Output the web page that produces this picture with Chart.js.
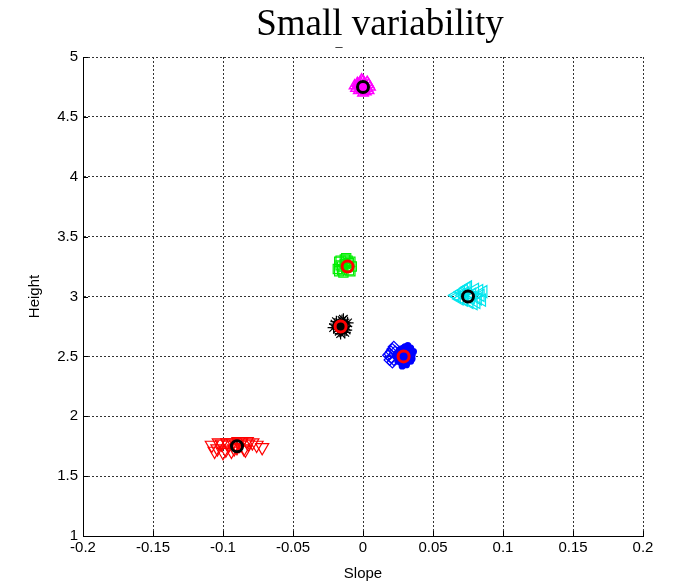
<!DOCTYPE html>
<html>
<head>
<meta charset="utf-8">
<script src="https://cdn.jsdelivr.net/npm/chart.js@4/dist/chart.umd.min.js"></script>
<style>
  html, body { margin: 0; padding: 0; background: #ffffff; }
  #wrap { width: 675px; height: 584px; position: relative; }
</style>
</head>
<body>
<div id="wrap"><canvas id="c" width="675" height="584"></canvas></div>
<script>
// Axis ranges and tick values
const xTicks = [-0.2, -0.15, -0.1, -0.05, 0, 0.05, 0.1, 0.15, 0.2];
const yTicks = [1, 1.5, 2, 2.5, 3, 3.5, 4, 4.5, 5];

// Samples of each group, [slope, height]
const magentaPts = [[-0.004,4.76],[-0.002,4.79],[0.001,4.78],[0.003,4.74],[-0.003,4.72],[0.002,4.71],[0.000,4.80],[-0.005,4.74],[0.004,4.77],[-0.001,4.73],[0.002,4.76],[-0.002,4.75],[0.001,4.72],[-0.004,4.78],[0.003,4.79],[-0.006,4.76],[0.005,4.75],[-0.001,4.81],[0.000,4.70],[-0.003,4.77],[0.004,4.72]];
const greenPts = [[-0.017,3.29],[-0.015,3.22],[-0.013,3.31],[-0.010,3.28],[-0.009,3.21],[-0.012,3.24],[-0.016,3.26],[-0.011,3.30],[-0.014,3.20],[-0.008,3.25],[-0.018,3.23],[-0.010,3.22],[-0.013,3.27],[-0.016,3.30],[-0.015,3.25],[-0.009,3.29],[-0.017,3.21],[-0.012,3.32]];
const blackPts = [[-0.020,2.77],[-0.018,2.73],[-0.015,2.80],[-0.013,2.76],[-0.012,2.72],[-0.017,2.71],[-0.014,2.74],[-0.019,2.79],[-0.011,2.78],[-0.016,2.77],[-0.021,2.74],[-0.013,2.70],[-0.015,2.73],[-0.018,2.76],[-0.012,2.75],[-0.016,2.69],[-0.014,2.81]];
const blueDotPts = [[0.025,2.52],[0.027,2.56],[0.030,2.58],[0.033,2.55],[0.035,2.51],[0.034,2.46],[0.031,2.44],[0.027,2.45],[0.026,2.48],[0.029,2.53],[0.032,2.49],[0.028,2.50],[0.030,2.47],[0.033,2.52],[0.026,2.55],[0.035,2.48],[0.029,2.57],[0.031,2.43],[0.024,2.50],[0.036,2.54],[0.028,2.42],[0.032,2.59],[0.025,2.46],[0.034,2.57]];
const blueDiamondPts = [[0.019,2.52],[0.021,2.56],[0.022,2.47],[0.020,2.49],[0.023,2.54],[0.021,2.45],[0.018,2.51],[0.022,2.58],[0.020,2.54],[0.019,2.47]];
const cyanPts = [[0.067,3.00],[0.070,3.04],[0.072,2.97],[0.074,3.07],[0.076,2.95],[0.078,3.02],[0.080,3.06],[0.082,2.98],[0.084,3.01],[0.086,3.04],[0.071,3.01],[0.077,2.99],[0.081,2.95],[0.073,3.03],[0.085,2.97],[0.069,2.98],[0.075,3.08],[0.079,2.94],[0.083,3.05],[0.066,3.01],[0.072,3.05]];
const redPts = [[-0.108,1.76],[-0.104,1.73],[-0.101,1.77],[-0.098,1.72],[-0.096,1.76],[-0.093,1.78],[-0.090,1.74],[-0.087,1.78],[-0.085,1.73],[-0.082,1.77],[-0.079,1.78],[-0.076,1.76],[-0.072,1.74],[-0.106,1.71],[-0.100,1.70],[-0.094,1.71],[-0.091,1.77],[-0.088,1.76],[-0.084,1.72],[-0.097,1.78],[-0.089,1.79],[-0.083,1.79],[-0.103,1.78],[-0.092,1.73]];

// Group means
const centersBlack = [[0.000,4.75],[0.075,3.00],[-0.090,1.75]];
const centersRed = [[-0.011,3.25],[-0.016,2.75],[0.029,2.50]];

const toXY = arr => arr.map(p => ({x: p[0], y: p[1]}));

function group(pts, color, style, radius, extra) {
  return Object.assign({
    data: toXY(pts),
    pointStyle: style,
    pointRadius: radius,
    pointHoverRadius: radius,
    borderColor: color,
    backgroundColor: 'rgba(0,0,0,0)',
    pointBorderWidth: 1.2,
    showLine: false
  }, extra || {});
}

const tickFont = { family: "'Liberation Sans', Arial, sans-serif", size: 15 };

// Title drawn in serif type centred over the axes
const titlePlugin = {
  id: 'titleText',
  afterDraw(chart) {
    const ctx = chart.ctx;
    ctx.save();
    ctx.fillStyle = '#000';
    ctx.font = "37px 'Liberation Serif', 'Times New Roman', serif";
    ctx.textAlign = 'center';
    ctx.textBaseline = 'alphabetic';
    ctx.fillText('Small variability', 380, 35);
    ctx.font = "14px 'Liberation Serif', 'Times New Roman', serif";
    ctx.fillText('_', 339, 46);
    ctx.restore();
  }
};

// Short inward tick marks along the left and bottom axes
const innerTicks = {
  id: 'innerTicks',
  afterDraw(chart) {
    const ctx = chart.ctx, xs = chart.scales.x, ys = chart.scales.y, a = chart.chartArea;
    ctx.save();
    ctx.strokeStyle = '#000';
    ctx.lineWidth = 1;
    ctx.beginPath();
    yTicks.forEach(v => { const y = Math.round(ys.getPixelForValue(v)) + 0.5; ctx.moveTo(a.left, y); ctx.lineTo(a.left + 5, y); });
    xTicks.forEach(v => { const x = Math.round(xs.getPixelForValue(v)) + 0.5; ctx.moveTo(x, a.bottom); ctx.lineTo(x, a.bottom - 5); });
    ctx.stroke();
    ctx.restore();
  }
};

new Chart(document.getElementById('c'), {
  type: 'scatter',
  data: {
    datasets: [
      group(centersBlack, '#000000', 'circle', 5.5, { pointBorderWidth: 3 }),
      group(centersRed, '#ff0000', 'circle', 5.5, { pointBorderWidth: 3 }),
      group(magentaPts, '#ff00ff', 'triangle', 6, { pointBorderWidth: 1.5 }),
      group(greenPts, '#00ee00', 'rect', 6.5),
      group(blackPts, '#000000', 'star', 6),
      group(blueDotPts, '#0000ff', 'circle', 3.6, { backgroundColor: '#0000ff', pointBorderWidth: 0 }),
      group(blueDiamondPts, '#0000ff', 'rectRot', 5.5),
      group(cyanPts, '#00e5ee', 'triangle', 7, { rotation: -90 }),
      group(redPts, '#ff0000', 'triangle', 7.5, { rotation: 180 })
    ]
  },
  options: {
    responsive: false,
    animation: false,
    events: [],
    layout: { padding: { top: 57, right: 32, left: 0, bottom: 0 } },
    plugins: { legend: { display: false }, tooltip: { enabled: false }, title: { display: false } },
    scales: {
      x: {
        type: 'linear', min: -0.2, max: 0.2,
        afterBuildTicks: s => { s.ticks = xTicks.map(v => ({ value: v })); },
        afterFit: s => { s.height = 48; },
        ticks: { color: '#000', font: tickFont, padding: 3, maxRotation: 0, callback: v => String(Math.round(v * 100) / 100) },
        grid: { color: '#333', lineWidth: 1, drawTicks: false, tickLength: 0 },
        border: { display: true, color: '#000', width: 1, dash: [2, 2] },
        title: { display: true, text: 'Slope', color: '#000', font: tickFont, padding: { top: 2, bottom: 1 } }
      },
      y: {
        type: 'linear', min: 1, max: 5,
        afterBuildTicks: s => { s.ticks = yTicks.map(v => ({ value: v })); },
        afterFit: s => { s.width = 83; },
        ticks: { color: '#000', font: tickFont, padding: 5, callback: v => String(Math.round(v * 10) / 10) },
        grid: { color: '#333', lineWidth: 1, drawTicks: false, tickLength: 0 },
        border: { display: true, color: '#000', width: 1, dash: [2, 2] },
        title: { display: true, text: 'Height', color: '#000', font: tickFont, padding: { top: 26, bottom: 0 } }
      }
    }
  },
  plugins: [titlePlugin, innerTicks]
});
</script>
</body>
</html>
